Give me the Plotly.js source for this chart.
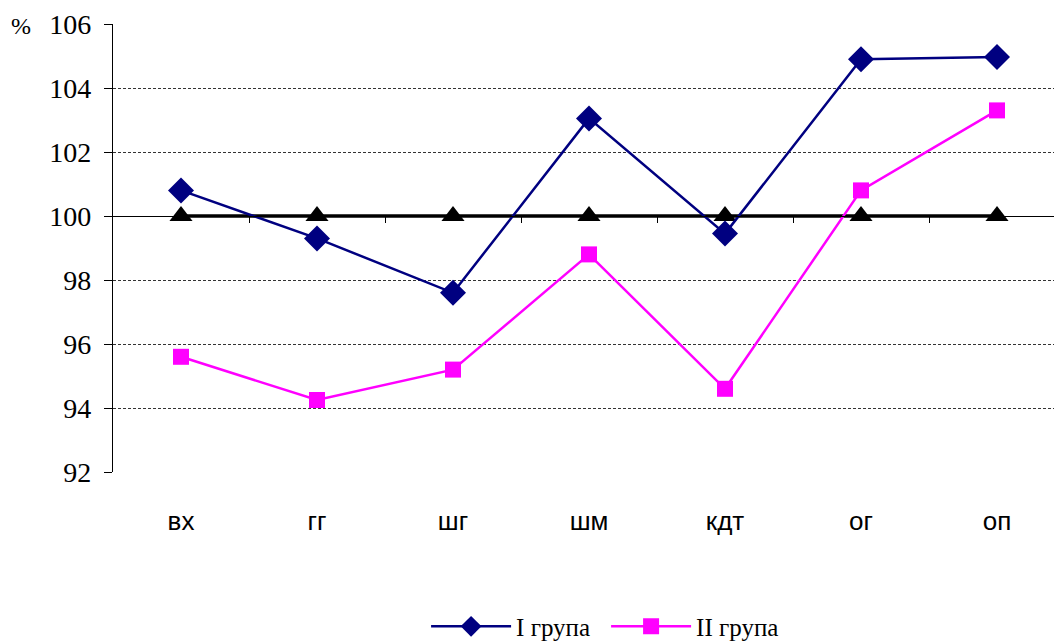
<!DOCTYPE html>
<html><head><meta charset="utf-8">
<script src="https://cdn.plot.ly/plotly-3.0.1.min.js"></script>
<style>html,body{margin:0;padding:0;background:#fff}</style>
</head><body>
<div id="chart" style="width:1054px;height:643px"></div>
<script>
const categories = ["вх", "гг", "шг", "шм", "кдт", "ог", "оп"];
const group1 = [100.8, 99.3, 97.6, 103.05, 99.45, 104.9, 104.97];
const group2 = [95.6, 94.25, 95.2, 98.8, 94.6, 100.8, 103.3];
const control = [100, 100, 100, 100, 100, 100, 100];
const yTicks = [92, 94, 96, 98, 100, 102, 104, 106];
const boundaryTicks = [0.5, 1.5, 2.5, 3.5, 4.5, 5.5];
const yMin = 92, yMax = 106, baseValue = 100;

const idx = categories.map((_, i) => i);
const SERIF = '"Times New Roman", "Liberation Serif", serif';

const traces = [
  {x: idx, y: control, type: 'scatter', mode: 'lines+markers', showlegend: false,
   line: {color: '#000000', width: 3.5},
   marker: {symbol: 'triangle-up', size: 20, color: '#000000'}},
  {x: idx, y: group1, type: 'scatter', mode: 'lines+markers', name: 'I група',
   line: {color: '#000080', width: 2.5},
   marker: {symbol: 'diamond', size: 20, color: '#000080'}},
  {x: idx, y: group2, type: 'scatter', mode: 'lines+markers', name: 'II група',
   line: {color: '#FF00FF', width: 2.5},
   marker: {symbol: 'square', size: 16, color: '#FF00FF'}},
  {x: [0], y: [baseValue], xaxis: 'x2', type: 'scatter', mode: 'none', showlegend: false, hoverinfo: 'skip'}
];

const layout = {
  width: 1054, height: 643,
  font: {family: SERIF, color: '#000'},
  margin: {l: 113, r: 0, t: 24, b: 171, autoexpand: false},
  paper_bgcolor: '#ffffff', plot_bgcolor: '#ffffff',
  showlegend: true,
  legend: {orientation: 'h', x: 0.524, xanchor: 'center', xref: 'paper', y: -0.345, yanchor: 'middle',
           font: {family: SERIF, size: 25, color: '#000'},
           itemwidth: 80, entrywidth: 85, entrywidthmode: 'pixels', tracegroupgap: 0},
  xaxis: {
    range: [-0.5, 6.419], tickmode: 'array', tickvals: idx, ticktext: categories,
    showgrid: false, zeroline: false, showline: false, ticks: '',
    ticklabelstandoff: 31,
    tickfont: {family: 'Liberation Sans', size: 26, color: '#000'}
  },
  xaxis2: {
    overlaying: 'x', matches: 'x', anchor: 'free',
    position: (baseValue - yMin) / (yMax - yMin),
    tickmode: 'array', tickvals: boundaryTicks, showticklabels: false,
    ticks: 'outside', ticklen: 6, tickwidth: 1, tickcolor: '#000',
    showline: true, linecolor: '#000', linewidth: 1, showgrid: false, zeroline: false
  },
  yaxis: {
    range: [yMin, yMax], tickmode: 'array', tickvals: yTicks,
    ticktext: yTicks.map(String),
    showline: true, linecolor: '#000', linewidth: 1.2,
    ticks: 'outside', ticklen: 8, tickcolor: '#000', tickwidth: 1,
    ticklabelstandoff: 7,
    showgrid: true, gridcolor: '#333', gridwidth: 1, griddash: '3px,2px',
    zeroline: false,
    tickfont: {family: SERIF, size: 28, color: '#000'}
  },
  annotations: [
    {text: '%', xref: 'paper', yref: 'paper', x: -0.0978, y: 0.995, xanchor: 'center', yanchor: 'middle',
     showarrow: false, font: {family: SERIF, size: 24, color: '#000'}}
  ]
};

Plotly.newPlot('chart', traces, layout, {displayModeBar: false, staticPlot: true});
</script>
</body></html>
